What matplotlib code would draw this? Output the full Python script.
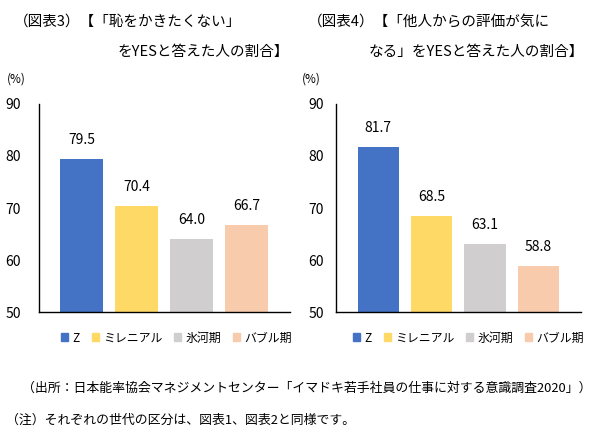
import matplotlib.pyplot as plt
from matplotlib.patches import Patch

plt.rcParams['font.family'] = ['Noto Sans CJK JP', 'DejaVu Sans']

generations = ["Z", "ミレニアル", "氷河期", "バブル期"]
colors = ["#4472C4", "#FFD966", "#D0CECE", "#F8CBAD"]
shame_values = [79.5, 70.4, 64.0, 66.7]
eval_values = [81.7, 68.5, 63.1, 58.8]
y_ticks = [50, 60, 70, 80, 90]

W, H = 590, 440
fig = plt.figure(figsize=(W / 100, H / 100), dpi=100)


def px(x, y):
    return x / W, 1 - y / H


def draw_panel(rect, values, xlim, label_pad, legend_x):
    ax = fig.add_axes(rect)
    xs = range(len(values))
    ax.bar(xs, values, width=0.78, color=colors, bottom=0)
    ax.set_ylim(50, 90)
    ax.set_xlim(*xlim)
    ax.set_yticks(y_ticks)
    ax.tick_params(axis="y", length=0, pad=label_pad, labelsize=10)
    ax.set_xticks([])
    for side in ("top", "right"):
        ax.spines[side].set_visible(False)
    ax.spines["left"].set_linewidth(1.0)
    ax.spines["bottom"].set_linewidth(1.0)
    for x, v in zip(xs, values):
        ax.annotate(f"{v:.1f}", (x, v), xytext=(0, 19), textcoords="offset pixels",
                    ha="center", va="center", fontsize=10)
    handles = [Patch(color=c, label=g) for c, g in zip(colors, generations)]
    ax.legend(handles=handles, loc="center", bbox_to_anchor=(legend_x, -0.125), ncol=4,
              frameon=False, fontsize=8.6, handlelength=0.6, handleheight=0.6,
              handletextpad=0.35, columnspacing=1.0)
    return ax


l0, b0 = px(39, 312)
l1, t0 = px(290, 104)
draw_panel([l0, b0, l1 - l0, t0 - b0], shame_values, (-0.773, 3.79), 13, 0.548)

r0, _ = px(336.5, 312)
r1, _ = px(581, 104)
draw_panel([r0, b0, r1 - r0, t0 - b0], eval_values, (-0.785, 3.80), 9, 0.54)

# titles
fig.text(*px(14, 22), "（図表3）【「恥をかきたくない」", fontsize=10.5, va="center")
fig.text(*px(289, 52), "をYESと答えた人の割合】", fontsize=10.5, va="center", ha="right")
fig.text(*px(308, 22), "（図表4）【「他人からの評価が気に", fontsize=10.5, va="center")
fig.text(*px(584, 52), "なる」をYESと答えた人の割合】", fontsize=10.5, va="center", ha="right")

fig.text(*px(7, 79), "(%)", fontsize=8.5, va="center")
fig.text(*px(302, 79), "(%)", fontsize=8.5, va="center")

fig.text(*px(22, 388), "（出所：日本能率協会マネジメントセンター「イマドキ若手社員の仕事に対する意識調査2020」）",
         fontsize=9.3, va="center")
fig.text(*px(6, 420), "（注）それぞれの世代の区分は、図表1、図表2と同様です。", fontsize=9.3, va="center")

fig.savefig("out.png", dpi=100)
plt.close(fig)
